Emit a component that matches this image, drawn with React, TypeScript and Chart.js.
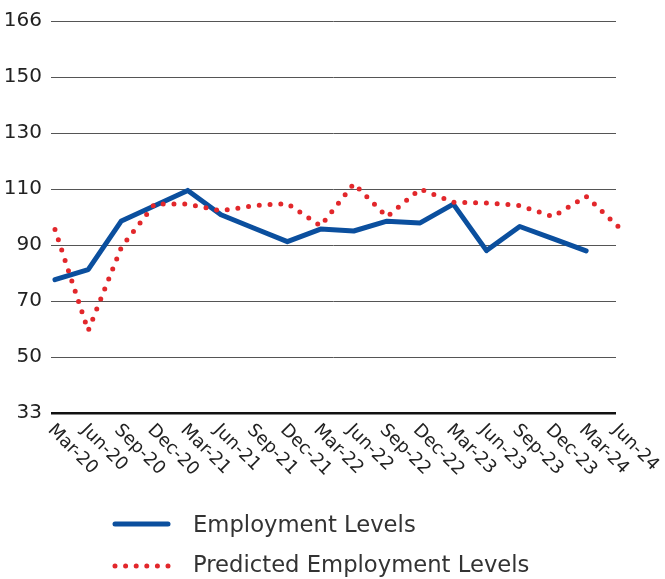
import React, { useEffect, useRef } from 'react';
import { Chart, registerables } from 'chart.js';

Chart.register(...registerables);

const categories = ['Mar-20', 'Jun-20', 'Sep-20', 'Dec-20', 'Mar-21', 'Jun-21', 'Sep-21', 'Dec-21', 'Mar-22', 'Jun-22', 'Sep-22', 'Dec-22', 'Mar-23', 'Jun-23', 'Sep-23', 'Dec-23', 'Mar-24', 'Jun-24'];
const employmentLevels = [77.6, 81.2, 98.6, 104, 109.5, 100.8, 96, 91.2, 95.7, 95.0, 98.5, 97.9, 104.6, 88.0, 96.6, 92.3, 87.9, null];
const predictedLevels = [95.5, 59.4, 89.2, 104.6, 104.6, 102.2, 104.1, 104.8, 96.8, 111.9, 100.1, 110.0, 105.3, 105.0, 104.1, 100.1, 107.4, 96.2];
const yTickValues = [30, 50, 70, 90, 110, 130, 150, 170];
const yTickLabels = ['33', '50', '70', '90', '110', '130', '150', '166'];
const seriesNames = ['Employment Levels', 'Predicted Employment Levels'];

const BLUE = '#0b4f9e';
const RED = '#e2272b';
const FONT = "'DejaVu Sans', sans-serif";

export default function App() {
  const ref = useRef<HTMLCanvasElement>(null);

  useEffect(() => {
    document.body.style.margin = '0';
    const canvas = ref.current!;

    const extras = {
      id: 'extras',
      afterDraw(chart: any) {
        const ctx = chart.ctx as CanvasRenderingContext2D;
        const xs = chart.scales.x;
        const area = chart.chartArea;
        ctx.save();
        // rotated category labels
        ctx.fillStyle = '#222';
        ctx.font = `18px ${FONT}`;
        ctx.textAlign = 'left';
        ctx.textBaseline = 'top';
        categories.forEach((c, i) => {
          const px = xs.getPixelForValue(i);
          ctx.save();
          ctx.translate(px + 2, area.bottom + 8);
          ctx.rotate(Math.PI / 4);
          ctx.fillText(c, 0, 0);
          ctx.restore();
        });
        // legend
        const lx0 = 115, lx1 = 168, ltx = 193;
        const rows = [524, 566];
        ctx.lineCap = 'round';
        ctx.strokeStyle = BLUE;
        ctx.lineWidth = 5;
        ctx.setLineDash([]);
        ctx.beginPath();
        ctx.moveTo(lx0, rows[0]);
        ctx.lineTo(lx1, rows[0]);
        ctx.stroke();
        ctx.strokeStyle = RED;
        ctx.lineWidth = 5;
        ctx.setLineDash([0, 10.6]);
        ctx.beginPath();
        ctx.moveTo(lx0, rows[1]);
        ctx.lineTo(lx1 + 1, rows[1]);
        ctx.stroke();
        ctx.setLineDash([]);
        ctx.fillStyle = '#333';
        ctx.font = `22.7px ${FONT}`;
        ctx.textBaseline = 'alphabetic';
        ctx.fillText(seriesNames[0], ltx, rows[0] + 7.5);
        ctx.fillText(seriesNames[1], ltx, rows[1] + 6);
        ctx.restore();
      },
    };

    const chart = new Chart(canvas, {
      type: 'line',
      data: {
        datasets: [
          {
            label: seriesNames[0],
            data: employmentLevels.map((v, i) => ({ x: i, y: v })),
            borderColor: BLUE,
            backgroundColor: BLUE,
            borderWidth: 5,
            pointRadius: 0,
            borderCapStyle: 'round',
            borderJoinStyle: 'round',
            tension: 0,
            fill: false,
            clip: false,
            order: 1,
          },
          {
            label: seriesNames[1],
            data: predictedLevels.map((v, i) => ({ x: i, y: v })),
            borderColor: RED,
            backgroundColor: RED,
            borderWidth: 5,
            borderDash: [0, 10.8],
            borderCapStyle: 'round',
            pointRadius: 0,
            tension: 0,
            fill: false,
            clip: false,
            order: 0,
          },
        ],
      } as any,
      options: {
        responsive: false,
        animation: false,
        devicePixelRatio: 1,
        layout: { padding: { left: 0, top: 16, right: 49, bottom: 166 } },
        plugins: { legend: { display: false }, tooltip: { enabled: false } },
        scales: {
          x: { type: 'linear', display: false, min: -0.12, max: 16.9 },
          y: {
            min: yTickValues[0],
            max: yTickValues[yTickValues.length - 1],
            ticks: {
              stepSize: 20,
              callback: (v: any) => {
                const k = yTickValues.indexOf(Number(v));
                return k >= 0 ? yTickLabels[k] : '';
              },
              font: { family: FONT, size: 20 },
              color: '#222',
              padding: 9,
            },
            grid: {
              color: (c: any) => (c.tick && c.tick.value === 30 ? '#111' : '#555'),
              lineWidth: (c: any) => (c.tick && c.tick.value === 30 ? 2.5 : 1),
              drawTicks: false,
            },
            border: { display: false },
            afterFit: (s: any) => {
              s.width = 51;
            },
          },
        },
      } as any,
      plugins: [extras],
    });
    return () => chart.destroy();
  }, []);

  return <canvas ref={ref} width={665} height={579} style={{ display: 'block' }} />;
}
